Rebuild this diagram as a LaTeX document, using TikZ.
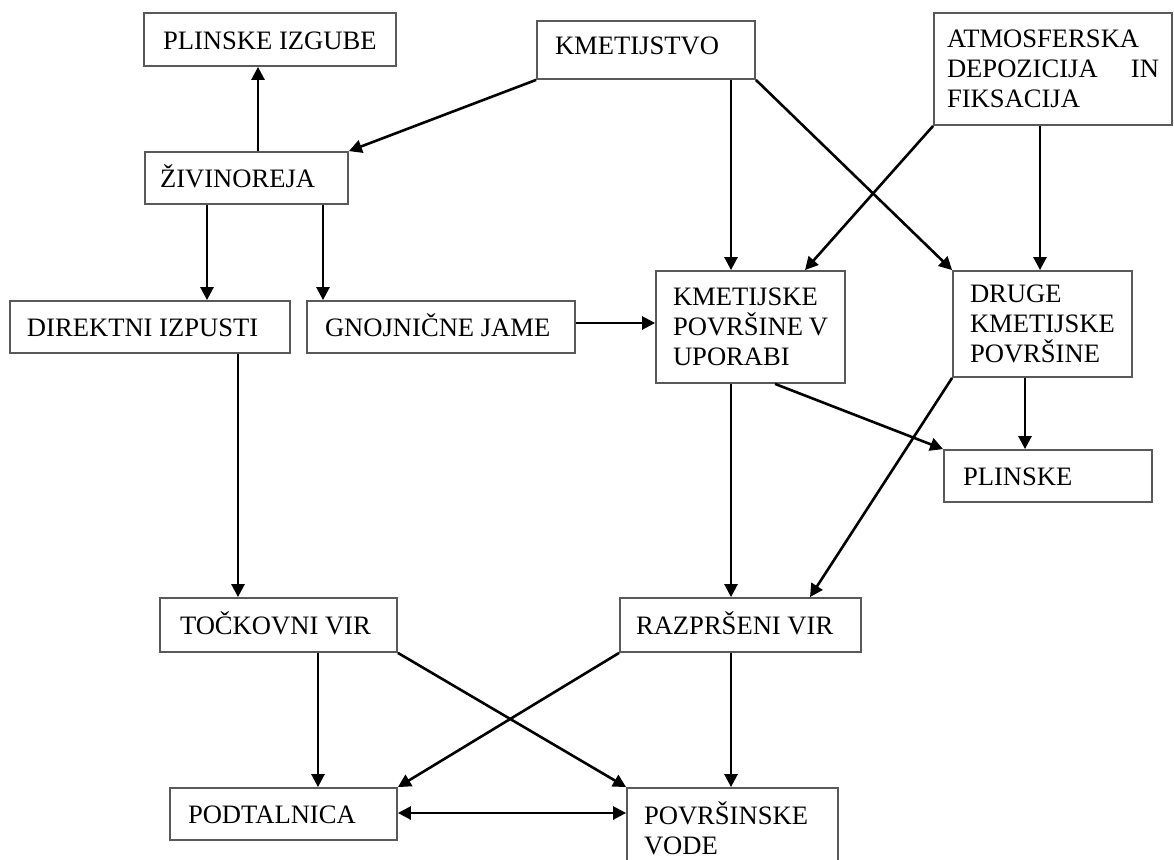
\documentclass[tikz,border=0pt]{standalone}
\usepackage{fontspec}
\setmainfont{Liberation Serif}
\usetikzlibrary{arrows.meta,calc}
\begin{document}
\begin{tikzpicture}[x=1pt,y=-1pt,
  box/.style={draw=black!65,line width=1.8pt,rectangle,inner sep=0pt,
    font=\fontsize{26.6}{30}\selectfont,align=left},
  one/.style={text height=22pt,text depth=3pt},
  arr/.style={line width=2.6pt,-{Triangle[length=13pt,width=13pt]}},
  darr/.style={line width=2.6pt,{Triangle[length=13pt,width=13pt]}-{Triangle[length=13pt,width=13pt]}}]
\path[use as bounding box,clip] (0,0) rectangle (1174,859);
\fill[white] (0,0) rectangle (1174,859);
% boxes
\node[box,one,minimum width=252pt,minimum height=53pt] (izg) at (270,39.5) {\makebox[214pt][l]{PLINSKE IZGUBE}};
\node[box,one,minimum width=218pt,minimum height=58pt] (kmet) at (646,50) {\raisebox{5pt}{\makebox[182pt][l]{KMETIJSTVO}}};
\node[box,minimum width=238pt,minimum height=112pt] (atm) at (1053,69) {\parbox{212pt}{ATMOSFERSKA\\DEPOZICIJA\hfill IN\\FIKSACIJA}};
\node[box,one,minimum width=203pt,minimum height=52pt] (ziv) at (246.5,178) {\makebox[173pt][l]{ŽIVINOREJA}};
\node[box,one,minimum width=280pt,minimum height=52pt] (dir) at (150,327) {\makebox[246pt][l]{DIREKTNI IZPUSTI}};
\node[box,one,minimum width=268pt,minimum height=52pt] (gno) at (441,327) {\makebox[232pt][l]{GNOJNIČNE JAME}};
\node[box,minimum width=189pt,minimum height=112pt] (kpu) at (750.5,327) {\parbox{155pt}{KMETIJSKE\\POVRŠINE V\\UPORABI}};
\node[box,minimum width=179pt,minimum height=106pt] (dru) at (1042.5,324) {\parbox{145pt}{DRUGE\\KMETIJSKE\\POVRŠINE}};
\node[box,one,minimum width=208pt,minimum height=52pt] (pli) at (1048,476) {\makebox[170pt][l]{PLINSKE}};
\node[box,one,minimum width=237pt,minimum height=54pt] (toc) at (278.5,625) {\makebox[197pt][l]{TOČKOVNI VIR}};
\node[box,one,minimum width=241pt,minimum height=54pt] (raz) at (740.5,625) {\makebox[209pt][l]{RAZPRŠENI VIR}};
\node[box,one,minimum width=227pt,minimum height=52pt] (pod) at (283.5,814) {\makebox[191pt][l]{PODTALNICA}};
\node[box,minimum width=211pt,minimum height=80pt] (pov) at (732.5,828) {\parbox{177pt}{POVRŠINSKE\\VODE}};
% connectors
\draw[arr] ([xshift=11.5pt]ziv.north) -- ([xshift=11.5pt]ziv.north |- izg.south);
\draw[arr] (kmet.south west) -- (ziv.north east);
\draw[arr] ([xshift=85pt]kmet.south) -- ([xshift=85pt]kmet.south |- kpu.north);
\draw[arr] (kmet.south east) -- (dru.north west);
\draw[arr] (atm.south west) -- ([xshift=54.5pt]kpu.north);
\draw[arr] ([xshift=-13pt]atm.south) -- ([xshift=-13pt]atm.south |- dru.north);
\draw[arr] ([xshift=-39.5pt]ziv.south) -- ([xshift=-39.5pt]ziv.south |- dir.north);
\draw[arr] ([xshift=76.5pt]ziv.south) -- ([xshift=76.5pt]ziv.south |- gno.north);
\draw[arr] ([xshift=88pt]dir.south) -- ([xshift=88pt]dir.south |- toc.north);
\draw[arr] ([yshift=4pt]gno.east) -- ([yshift=4pt]gno.east -| kpu.west);
\draw[arr] ([xshift=-19.5pt]kpu.south) -- ([xshift=-19.5pt]kpu.south |- raz.north);
\draw[arr] ([xshift=24.5pt]kpu.south) -- (pli.north west);
\draw[arr] ([xshift=-17.5pt]dru.south) -- ([xshift=-17.5pt]dru.south |- pli.north);
\draw[arr] (dru.south west) -- ([xshift=69.5pt]raz.north);
\draw[arr] ([xshift=39.5pt]toc.south) -- ([xshift=39.5pt]toc.south |- pod.north);
\draw[arr] (toc.south east) -- (pov.north west);
\draw[arr] (raz.south west) -- (pod.north east);
\draw[arr] ([xshift=-9.5pt]raz.south) -- ([xshift=-9.5pt]raz.south |- pov.north);
\draw[darr] ([yshift=1pt]pod.east) -- ([yshift=1pt]pod.east -| pov.west);
\end{tikzpicture}
\end{document}
